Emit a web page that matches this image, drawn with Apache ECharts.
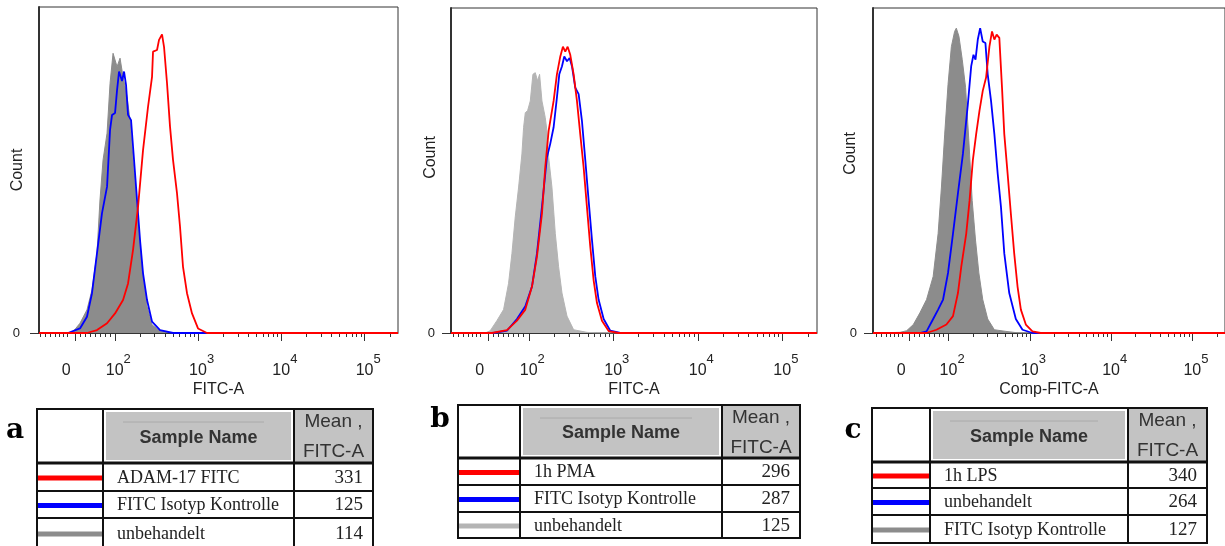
<!DOCTYPE html>
<html>
<head>
<meta charset="utf-8">
<script src="https://cdn.jsdelivr.net/npm/echarts@6/dist/echarts.min.js"></script>
<style>
html,body{margin:0;padding:0;background:#fff;}
#chart{width:1225px;height:546px;}
</style>
</head>
<body>
<div id="chart"></div>
<script>
// ---------------- DATA ----------------
// x = display position on the FITC axis in decades (log10 of fluorescence), y = relative count (% of axis height)
const panelLetters = ['a', 'b', 'c'];
const xAxisTitles = ['FITC-A', 'FITC-A', 'Comp-FITC-A'];
const yAxisTitle = 'Count';
const decadeTicks = [2, 3, 4, 5];          // 10^2 .. 10^5
const zeroTick = 1.52;                      // position of "0" on the biexponential display
const linearRegionTicks = [1.11, 1.17, 1.23, 1.28, 1.33, 1.38, 1.43, 1.58, 1.64, 1.70, 1.76, 1.82, 1.88, 1.94];

const headerSample = 'Sample Name';
const headerMean = 'Mean ,\nFITC-A';

// Panel a
const namesA = ['ADAM-17 FITC', 'FITC Isotyp Kontrolle', 'unbehandelt'];
const meansA = [331, 125, 114];
const redA = [[1.09,0],[1.666,0],[1.786,0.9],[1.907,3.0],[2.003,6.0],[2.099,10.1],[2.159,15.2],[2.219,25.5],[2.279,38.7],[2.339,56.1],[2.399,69.4],[2.447,78.6],[2.459,86.3],[2.507,86.8],[2.531,89.9],[2.567,91.6],[2.591,87.8],[2.627,76.6],[2.663,63.3],[2.699,53.1],[2.747,42.8],[2.783,32.6],[2.819,20.3],[2.867,12.2],[2.927,6.0],[2.999,1.4],[3.107,0],[5.40,0]];
const blueA = [[1.09,0],[1.438,0],[1.582,1.4],[1.666,5.0],[1.726,12.2],[1.786,24.4],[1.846,36.7],[1.907,44.9],[1.943,62.3],[1.967,66.9],[2.003,67.5],[2.027,74.5],[2.051,80.2],[2.087,77.3],[2.111,80.2],[2.135,76.1],[2.159,66.9],[2.195,65.3],[2.219,57.2],[2.267,40.8],[2.303,28.5],[2.339,18.3],[2.387,10.1],[2.447,3.5],[2.543,0.9],[2.699,0],[5.40,0]];
const grayA = [[1.09,0],[1.486,0],[1.582,3.0],[1.666,7.1],[1.726,13.2],[1.786,24.4],[1.822,40.8],[1.859,53.1],[1.907,61.3],[1.943,76.6],[1.979,85.8],[2.003,86.3],[2.027,81.7],[2.063,84.3],[2.099,78.6],[2.147,72.5],[2.183,65.3],[2.219,53.1],[2.267,38.7],[2.303,27.5],[2.339,17.3],[2.387,8.1],[2.447,2.5],[2.543,0.6],[2.699,0],[5.40,0]];

// Panel b
const namesB = ['1h PMA', 'FITC Isotyp Kontrolle', 'unbehandelt'];
const meansB = [296, 287, 125];
const redB = [[1.08,0],[1.564,0],[1.742,0.9],[1.860,3.8],[1.959,7.2],[2.038,14.3],[2.097,23.5],[2.156,36.7],[2.195,51.0],[2.235,62.2],[2.294,71.4],[2.333,79.6],[2.373,85.1],[2.404,88.1],[2.432,86.6],[2.460,88.1],[2.491,85.6],[2.531,79.6],[2.570,71.4],[2.609,61.2],[2.649,51.0],[2.688,38.8],[2.728,26.5],[2.767,16.3],[2.807,9.2],[2.866,3.8],[2.945,0.6],[3.063,0],[5.41,0]];
const blueB = [[1.08,0],[1.584,0],[1.742,0.7],[1.860,4.3],[1.959,8.2],[2.038,14.3],[2.097,24.5],[2.156,38.8],[2.215,54.1],[2.254,58.2],[2.294,63.3],[2.333,72.4],[2.361,79.6],[2.393,82.1],[2.420,85.1],[2.452,83.6],[2.483,84.6],[2.511,82.1],[2.550,75.5],[2.590,73.5],[2.629,65.3],[2.669,53.1],[2.708,40.8],[2.748,28.6],[2.787,17.4],[2.826,10.3],[2.886,4.3],[2.964,0.7],[3.083,0],[5.41,0]];
const grayB = [[1.08,0],[1.485,0],[1.544,0.7],[1.623,3.8],[1.702,7.2],[1.761,15.3],[1.801,24.5],[1.840,35.7],[1.880,44.9],[1.919,55.1],[1.939,63.3],[1.959,67.8],[1.986,68.4],[2.018,71.4],[2.049,79.6],[2.077,80.1],[2.104,77.6],[2.128,79.6],[2.156,71.4],[2.195,66.3],[2.215,62.2],[2.235,54.1],[2.274,44.9],[2.314,30.6],[2.353,20.4],[2.393,12.3],[2.452,5.2],[2.531,1.0],[2.688,0.2],[2.80,0],[5.41,0]];

// Panel c
const namesC = ['1h LPS', 'unbehandelt', 'FITC Isotyp Kontrolle'];
const meansC = [340, 264, 127];
const redC = [[1.07,0],[1.729,0],[1.851,1.0],[1.973,2.6],[2.054,5.2],[2.115,12.3],[2.156,20.4],[2.217,30.6],[2.258,40.8],[2.298,53.1],[2.339,61.2],[2.380,68.4],[2.420,74.5],[2.461,78.6],[2.502,88.1],[2.534,92.8],[2.563,90.3],[2.591,91.8],[2.624,90.8],[2.657,75.5],[2.685,61.2],[2.726,49.0],[2.766,36.7],[2.807,24.5],[2.848,14.3],[2.889,7.2],[2.950,2.6],[3.031,0.5],[3.133,0],[5.40,0]];
const blueC = [[1.07,0],[1.647,0],[1.729,0.5],[1.810,4.3],[1.871,7.2],[1.932,10.3],[1.993,18.5],[2.054,30.6],[2.115,43.0],[2.176,55.1],[2.237,70.4],[2.278,82.1],[2.306,85.6],[2.331,84.1],[2.359,90.3],[2.388,93.8],[2.420,89.7],[2.453,89.2],[2.481,79.6],[2.522,71.4],[2.563,61.2],[2.604,49.0],[2.644,38.8],[2.685,24.5],[2.746,12.3],[2.827,4.3],[2.909,1.0],[3.031,0],[5.40,0]];
const grayC = [[1.07,0],[1.403,0.2],[1.484,0.7],[1.566,2.6],[1.647,6.2],[1.729,10.3],[1.810,17.4],[1.871,30.6],[1.912,44.9],[1.952,61.2],[1.993,76.5],[2.034,88.1],[2.074,92.8],[2.095,93.8],[2.127,91.3],[2.168,84.1],[2.209,75.5],[2.249,59.2],[2.290,40.8],[2.331,28.6],[2.372,18.5],[2.420,10.3],[2.481,4.3],[2.563,1.0],[2.705,0.5],[2.868,0],[5.40,0]];

// ---------------- LAYOUT / STYLE ----------------
const RED = '#ff0000', BLUE = '#0000ff', DARKGRAY = '#8c8c8c', LIGHTGRAY = '#b4b4b4';
const panels = [
  {grid:{left:39, top:7, width:359, height:326}, xr:[1.09,5.40], countPad:0, countGap:13, zeroMargin:19,
   series:[['unbehandelt', grayA, DARKGRAY, true], ['FITC Isotyp Kontrolle', blueA, BLUE, false], ['ADAM-17 FITC', redA, RED, false]],
   table:{cols:[37,103,294,373], rows:[409,463,491,518,548], letterX:15, letterY:431, names:namesA, means:meansA, colors:[RED,BLUE,DARKGRAY]}},
  {grid:{left:451, top:8, width:366, height:325}, xr:[1.08,5.41], countPad:26, countGap:12, zeroMargin:16,
   series:[['unbehandelt', grayB, LIGHTGRAY, true], ['FITC Isotyp Kontrolle', blueB, BLUE, false], ['1h PMA', redB, RED, false]],
   table:{cols:[458,520,722,800], rows:[405,458,485,512,538], letterX:440, letterY:420, names:namesB, means:meansB, colors:[RED,BLUE,LIGHTGRAY]}},
  {grid:{left:873, top:8, width:354, height:325}, xr:[1.07,5.40], countPad:34, countGap:14, zeroMargin:16,
   series:[['FITC Isotyp Kontrolle', grayC, DARKGRAY, true], ['unbehandelt', blueC, BLUE, false], ['1h LPS', redC, RED, false]],
   table:{cols:[872,930,1128,1207], rows:[408,462,488,515,543], letterX:853, letterY:431, names:namesC, means:meansC, colors:[RED,BLUE,DARKGRAY]}}
];

const minorTicks = linearRegionTicks.slice();
for (let d = 2; d <= 5; d++) for (let k = 2; k <= 9; k++) minorTicks.push(Math.log10(k) + d);
const majorTicks = [zeroTick].concat(decadeTicks);

const SANS = 'Liberation Sans, Arial, sans-serif';
const SERIF = 'Liberation Serif, DejaVu Serif, serif';
const AX = '#333';

const grids = [], xAxes = [], yAxes = [], series = [], graphics = [];

panels.forEach((p, i) => {
  grids.push(Object.assign({show:true, borderColor:AX, borderWidth:1, backgroundColor:'#fff'}, p.grid));
  xAxes.push({
    gridIndex:i, type:'value', min:p.xr[0], max:p.xr[1], position:'bottom',
    axisLine:{show:true, onZero:false, lineStyle:{color:AX, width:1}},
    axisTick:{show:true, customValues:majorTicks, length:8, lineStyle:{color:AX, width:1}},
    axisLabel:{customValues:majorTicks, margin:20, color:'#222', hideOverlap:false,
      formatter:function(v){
        if (Math.abs(v - zeroTick) < 0.01) return '{z|0}{zs| }';
        return '{sp| }{b|10}{s|' + Math.round(v) + '}';
      },
      rich:{
        b:{fontSize:16, fontFamily:SANS, color:'#222', lineHeight:26, verticalAlign:'bottom'},
        s:{fontSize:13, fontFamily:SANS, color:'#222', lineHeight:26, verticalAlign:'top'},
        sp:{width:7, fontSize:10},
        z:{fontSize:16, fontFamily:SANS, color:'#222', lineHeight:26, verticalAlign:'bottom'},
        zs:{width:17, fontSize:10}
      }},
    splitLine:{show:false},
    name:xAxisTitles[i], nameLocation:'middle', nameGap:49, nameMoveOverlap:false,
    nameTextStyle:{fontSize:16, fontFamily:SANS, color:'#222'}
  });
  xAxes.push({
    gridIndex:i, type:'value', min:p.xr[0], max:p.xr[1], position:'bottom',
    axisLine:{show:false},
    axisTick:{show:true, customValues:minorTicks, length:4, lineStyle:{color:AX, width:1}},
    axisLabel:{show:false}, splitLine:{show:false}
  });
  yAxes.push({
    gridIndex:i, type:'value', min:0, max:100,
    axisLine:{show:true, lineStyle:{color:AX, width:2}},
    axisTick:{show:true, customValues:[0], length:9, lineStyle:{color:AX, width:1}},
    axisLabel:{customValues:[0], margin:p.zeroMargin, fontSize:13, fontFamily:SANS, color:'#222', padding:[0,0,11,0]},
    splitLine:{show:false},
    name:yAxisTitle, nameLocation:'middle', nameGap:p.countGap, nameMoveOverlap:false,
    nameTextStyle:{fontSize:16, fontFamily:SANS, color:'#222', padding:[0,0,0,p.countPad]}
  });
  p.series.forEach(s => {
    const o = {type:'line', name:s[0], data:s[1], xAxisIndex:2*i, yAxisIndex:i,
      symbol:'none', smooth:false, animation:false, silent:true,
      lineStyle:{color:s[2], width:s[3] ? 1 : 1.8}, itemStyle:{color:s[2]}};
    if (s[3]) o.areaStyle = {color:s[2], opacity:1};
    series.push(o);
  });

  // ---- table under the plot ----
  const t = p.table, c = t.cols, r = t.rows;
  graphics.push({type:'rect', shape:{x:c[1]+3, y:r[0]+3, width:c[2]-c[1]-6, height:r[1]-r[0]-6}, style:{fill:'#c3c3c3'}});
  graphics.push({type:'rect', shape:{x:c[2]+1, y:r[0]+1, width:c[3]-c[2]-2, height:r[1]-r[0]-2}, style:{fill:'#c3c3c3'}});
  graphics.push({type:'line', shape:{x1:c[1]+20, y1:r[0]+13, x2:c[2]-30, y2:r[0]+13}, style:{stroke:'#aaa', lineWidth:1}});
  r.forEach((y, k) => graphics.push({type:'line', shape:{x1:c[0]-1, y1:y, x2:c[3]+1, y2:y}, style:{stroke:'#111', lineWidth:k===1 ? 3 : 2}}));
  c.forEach(x => graphics.push({type:'line', shape:{x1:x, y1:r[0], x2:x, y2:r[r.length-1]}, style:{stroke:'#111', lineWidth:2}}));
  graphics.push({type:'text', x:(c[1]+c[2])/2, y:(r[0]+r[1])/2 + 2,
    style:{text:headerSample, fill:'#333', font:'bold 18px ' + SANS, align:'center', verticalAlign:'middle'}});
  graphics.push({type:'text', x:(c[2]+c[3])/2, y:(r[0]+r[1])/2 + 1,
    style:{text:headerMean, fill:'#333', font:'19px ' + SANS, align:'center', verticalAlign:'middle', lineHeight:30}});
  for (let k = 0; k < 3; k++) {
    const yc = (r[k+1] + r[k+2]) / 2;
    graphics.push({type:'line', shape:{x1:c[0]+1, y1:yc+1, x2:c[1]-1, y2:yc+1}, style:{stroke:t.colors[k], lineWidth:5}});
    graphics.push({type:'text', x:c[1]+14, y:yc+1,
      style:{text:t.names[k], fill:'#222', font:'18px ' + SERIF, align:'left', verticalAlign:'middle'}});
    graphics.push({type:'text', x:c[3]-10, y:yc+1,
      style:{text:String(t.means[k]), fill:'#222', font:'19px ' + SERIF, align:'right', verticalAlign:'middle'}});
  }
  graphics.push({type:'text', x:t.letterX, y:t.letterY,
    style:{text:panelLetters[i], fill:'#000', font:'bold 28px DejaVu Serif, serif', align:'center', verticalAlign:'middle'}});
});

const chart = echarts.init(document.getElementById('chart'), null, {renderer:'canvas'});
chart.setOption({
  animation:false,
  backgroundColor:'#fff',
  grid:grids, xAxis:xAxes, yAxis:yAxes, series:series,
  graphic:{elements:graphics}
});
</script>
</body>
</html>
